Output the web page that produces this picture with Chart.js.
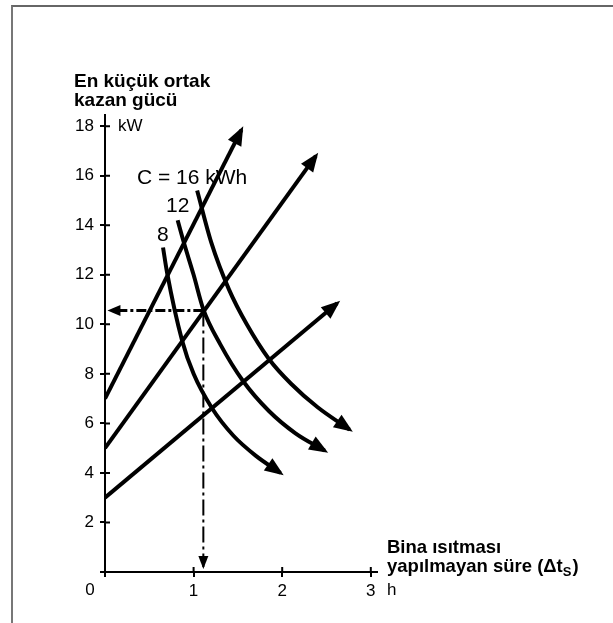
<!DOCTYPE html>
<html>
<head>
<meta charset="utf-8">
<script src="https://cdn.jsdelivr.net/npm/chart.js@4"></script>
<style>
  html, body { margin: 0; padding: 0; background: #fff; }
  #wrap { position: relative; width: 613px; height: 623px; overflow: hidden; }
  #frame { position: absolute; left: 11px; top: 5px; right: 0; bottom: 0;
           border-top: 2px solid #666; border-left: 2px solid #777; }
  #chart { position: absolute; left: 0; top: 0; }
</style>
</head>
<body>
<div id="wrap">
  <div id="frame"></div>
  <canvas id="chart" width="613" height="623"></canvas>
</div>
<script>
// Axis ticks
const xTicks = [0, 1, 2, 3];
const yTicks = [0, 2, 4, 6, 8, 10, 12, 14, 16, 18];

// Straight lines (boiler output vs. time), start at 7, 5 and 3 kW
const lineAX = [0, 1.54];
const lineAY = [7, 17.85];
const lineBX = [0, 2.38];
const lineBY = [5, 16.8];
const lineCX = [0, 2.62];
const lineCY = [3, 10.85];

// Storage curves C = 16, 12, 8 kWh
const curve16X = [1.04, 1.2, 1.4, 1.6, 1.85, 2.1, 2.4, 2.76];
const curve16Y = [15.4, 13.3, 11.4, 10.0, 8.6, 7.6, 6.65, 5.75];
const curve12X = [0.82, 0.89, 1.0, 1.11, 1.3, 1.56, 1.85, 2.15, 2.48];
const curve12Y = [14.2, 13.3, 12.0, 10.6, 9.2, 7.7, 6.5, 5.6, 4.9];
const curve8X = [0.655, 0.70, 0.87, 1.0, 1.21, 1.45, 1.7, 1.98];
const curve8Y = [13.1, 12.1, 9.35, 8.0, 6.6, 5.5, 4.7, 4.0];

// Reading example (dash-dot guides)
const guideHX = [1.11, 0.05];
const guideHY = [10.56, 10.56];
const guideVX = [1.11, 1.11];
const guideVY = [10.56, 0.2];

const pts = (xs, ys) => xs.map((x, i) => ({ x: x, y: ys[i] }));

function lineSet(xs, ys, extra) {
  return Object.assign({
    data: pts(xs, ys),
    showLine: true,
    borderColor: '#000',
    borderWidth: 4,
    pointRadius: 0,
    fill: false,
    arrow: { len: 19, width: 15 }
  }, extra || {});
}

const FONT = "'Liberation Sans', Arial, Helvetica, sans-serif";
Chart.defaults.font.family = FONT;
Chart.defaults.font.size = 16;
Chart.defaults.color = '#000';

// arrowheads at the end of each dataset
const arrowPlugin = {
  id: 'arrows',
  afterDatasetsDraw(chart) {
    const ctx = chart.ctx;
    chart.data.datasets.forEach((ds, i) => {
      if (!ds.arrow) return;
      const pts = chart.getDatasetMeta(i).data;
      const end = pts[pts.length - 1];
      let bx = end.cp1x, by = end.cp1y;
      if (bx === undefined || Math.hypot(end.x - bx, end.y - by) < 0.5) {
        bx = pts[pts.length - 2].x; by = pts[pts.length - 2].y;
      }
      const d = Math.hypot(end.x - bx, end.y - by);
      const ux = (end.x - bx) / d, uy = (end.y - by) / d;
      const ext = ds.arrow.ext !== undefined ? ds.arrow.ext : 4;
      const tx = end.x + ux * ext, ty = end.y + uy * ext;
      const L = ds.arrow.len, W = ds.arrow.width / 2;
      ctx.save();
      ctx.fillStyle = '#000';
      ctx.beginPath();
      ctx.moveTo(tx, ty);
      ctx.lineTo(tx - ux * L - uy * W, ty - uy * L + ux * W);
      ctx.lineTo(tx - ux * L + uy * W, ty - uy * L - ux * W);
      ctx.closePath();
      ctx.fill();
      ctx.restore();
    });
  }
};

// inner halves of the tick marks and the free text
const decoPlugin = {
  id: 'deco',
  afterDraw(chart) {
    const ctx = chart.ctx;
    const xs = chart.scales.x, ys = chart.scales.y;
    const x0 = xs.getPixelForValue(0), y0 = ys.getPixelForValue(0);
    ctx.save();
    ctx.strokeStyle = '#000';
    ctx.lineWidth = 2;
    ctx.beginPath();
    yTicks.forEach(v => {
      const p = ys.getPixelForValue(v);
      ctx.moveTo(x0, p); ctx.lineTo(x0 + 5, p);
    });
    xTicks.forEach(v => {
      const p = xs.getPixelForValue(v);
      ctx.moveTo(p, y0); ctx.lineTo(p, y0 - 5);
    });
    ctx.stroke();

    ctx.fillStyle = '#000';
    ctx.textBaseline = 'alphabetic';
    ctx.textAlign = 'left';
    ctx.font = 'bold 19px ' + FONT;
    ctx.fillText('En küçük ortak', 74, 87);
    ctx.fillText('kazan gücü', 74, 106);
    ctx.font = 'bold 18.5px ' + FONT;
    ctx.fillText('Bina ısıtması', 387, 553);
    const s = 'yapılmayan süre (Δt';
    ctx.fillText(s, 387, 572);
    let w = ctx.measureText(s).width;
    ctx.font = 'bold 13px ' + FONT;
    ctx.fillText('S', 387 + w, 576);
    w += ctx.measureText('S').width;
    ctx.font = 'bold 18.5px ' + FONT;
    ctx.fillText(')', 387 + w + 1, 572);

    ctx.font = '17px ' + FONT;
    ctx.textBaseline = 'middle';
    ctx.fillText('kW', 118, ys.getPixelForValue(18));
    ctx.fillText('h', 387, 590);
    ctx.textAlign = 'center';
    ctx.fillText('0', 90, 590);

    ctx.font = '21px ' + FONT;
    ctx.textAlign = 'left';
    ctx.fillText('C = 16 kWh', 137, 178);
    ctx.fillText('12', 166, 206);
    ctx.fillText('8', 157, 235);
    ctx.restore();
  }
};

new Chart(document.getElementById('chart'), {
  type: 'scatter',
  data: {
    datasets: [
      lineSet(lineAX, lineAY),
      lineSet(lineBX, lineBY),
      lineSet(lineCX, lineCY),
      lineSet(curve16X, curve16Y, { cubicInterpolationMode: 'monotone' }),
      lineSet(curve12X, curve12Y, { cubicInterpolationMode: 'monotone' }),
      lineSet(curve8X, curve8Y, { cubicInterpolationMode: 'monotone' }),
      lineSet(guideHX, guideHY, { borderWidth: 3, borderDash: [10, 3, 3, 3], arrow: { len: 13, width: 11, ext: 2 } }),
      lineSet(guideVX, guideVY, { borderWidth: 2, borderDash: [16, 4, 3, 4], arrow: { len: 13, width: 10, ext: 2 } })
    ]
  },
  options: {
    responsive: false,
    animation: false,
    layout: { padding: { left: 65, right: 236, top: 115, bottom: 11 } },
    plugins: { legend: { display: false }, tooltip: { enabled: false } },
    scales: {
      x: {
        type: 'linear',
        min: 0,
        max: 3.07,
        afterBuildTicks: s => { s.ticks = xTicks.map(v => ({ value: v })); },
        afterFit: s => { s.height = 40; },
        ticks: { padding: 4, font: { size: 17 }, callback: v => (v === 0 ? '' : String(v)) },
        grid: { drawOnChartArea: false, color: '#000', lineWidth: 2, tickLength: 5 },
        border: { color: '#000', width: 2 }
      },
      y: {
        type: 'linear',
        min: 0,
        max: 18.45,
        afterBuildTicks: s => { s.ticks = yTicks.map(v => ({ value: v })); },
        afterFit: s => { s.width = 40; },
        ticks: { padding: 6, font: { size: 17 }, callback: v => (v === 0 ? '' : String(v)) },
        grid: { drawOnChartArea: false, color: '#000', lineWidth: 2, tickLength: 5 },
        border: { color: '#000', width: 2 }
      }
    }
  },
  plugins: [arrowPlugin, decoPlugin]
});
</script>
</body>
</html>
